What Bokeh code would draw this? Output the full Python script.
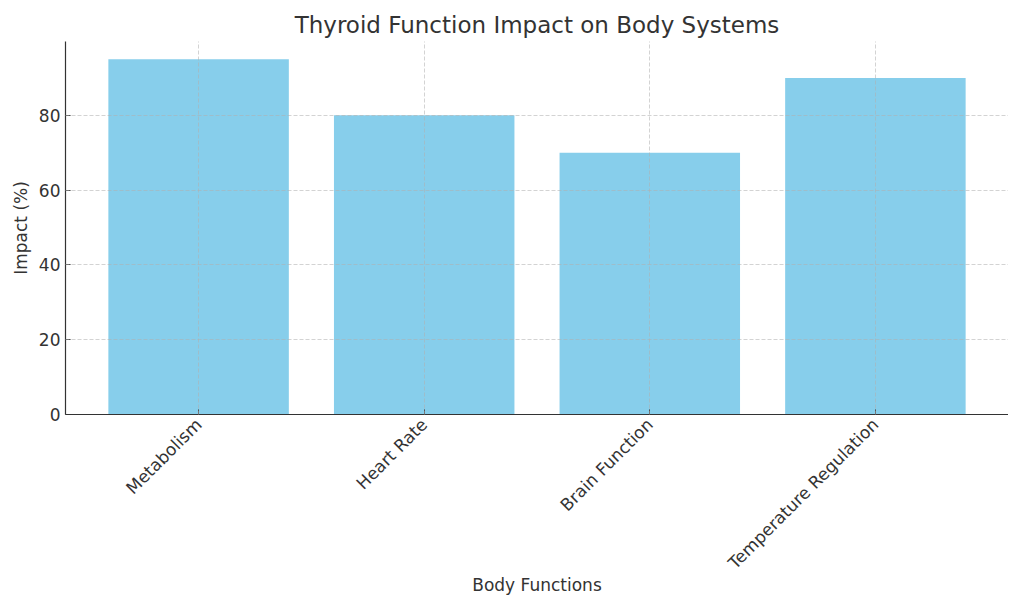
import math
from bokeh.plotting import figure
from bokeh.models import Range1d, FixedTicker, ColumnDataSource
from bokeh.embed import file_html
from bokeh.resources import INLINE

categories = ["Metabolism", "Heart Rate", "Brain Function", "Temperature Regulation"]
impact = [95, 80, 70, 90]
y_ticks = [0, 20, 40, 60, 80]

FONT = "DejaVu Sans"
TXT = "#333333"

xs = list(range(len(categories)))
src = ColumnDataSource(dict(x=xs, top=impact))

p = figure(width=1008, height=598, output_backend="svg", toolbar_location=None,
           x_range=Range1d(-0.59, len(categories) - 1 + 0.59),
           y_range=Range1d(0, max(impact) * 1.05),
           min_border_left=65, min_border_right=0, min_border_top=41, min_border_bottom=184,
           title="Thyroid Function Impact on Body Systems")

p.vbar(x="x", top="top", width=0.8, bottom=0, source=src, color="#87CEEB", line_color=None)

p.title.align = "center"
p.title.text_font = FONT
p.title.text_font_size = "23px"
p.title.text_font_style = "normal"
p.title.text_color = TXT
p.title.standoff = 7

p.outline_line_color = None

p.xaxis.ticker = FixedTicker(ticks=xs)
p.xaxis.major_label_overrides = {i: c for i, c in enumerate(categories)}
p.xaxis.major_label_orientation = math.pi / 4
p.xaxis.major_label_standoff = 7
p.xaxis.axis_label_standoff = -8
p.yaxis.ticker = FixedTicker(ticks=y_ticks)

p.xaxis.axis_label = "Body Functions"
p.yaxis.axis_label = "Impact (%)"

for ax in (p.xaxis, p.yaxis):
    ax.axis_label_text_font = FONT
    ax.axis_label_text_font_size = "17px"
    ax.axis_label_text_font_style = "normal"
    ax.axis_label_text_color = TXT
    ax.major_label_text_font = FONT
    ax.major_label_text_font_size = "17px"
    ax.major_label_text_color = TXT
    ax.axis_line_color = TXT
    ax.axis_line_width = 1.2
    ax.major_tick_line_color = TXT
    ax.major_tick_in = 5
    ax.major_tick_out = 0
    ax.minor_tick_line_color = None

for g in (p.xgrid, p.ygrid):
    g.grid_line_color = "#b0b0b0"
    g.grid_line_alpha = 0.7
    g.grid_line_dash = "4 2"
    g.grid_line_width = 0.8
    g.level = "overlay"

open("out.html", "w").write(file_html(p, INLINE))
